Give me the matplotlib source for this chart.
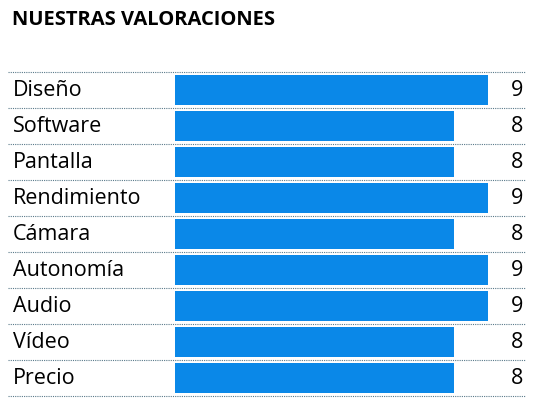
import matplotlib.pyplot as plt

categories = ["Diseño", "Software", "Pantalla", "Rendimiento", "Cámara",
              "Autonomía", "Audio", "Vídeo", "Precio"]
scores = [9, 8, 8, 9, 8, 9, 9, 8, 8]

plt.rcParams["font.family"] = ["Open Sans", "DejaVu Sans"]

fig = plt.figure(figsize=(5.4, 4.0), dpi=100)
ax = fig.add_axes([175 / 540, 4 / 400, 350 / 540, 324 / 400])
ax.set_xlim(0, 10.05)
ax.set_ylim(len(categories), 0)
ax.axis("off")

rows = [i + 0.5 for i in range(len(categories))]
ax.barh(rows, scores, height=0.84, color="#0A88E8")

trans = ax.get_yaxis_transform()
x_left = -(175 - 8) / 350
ax.hlines(range(len(categories) + 1), x_left, 1, transform=trans,
          colors="#5a7a8a", linestyles=(0, (1, 1)), linewidth=0.8, clip_on=False)

for y, cat, s in zip(rows, categories, scores):
    ax.text(-(175 - 13) / 350, y, cat, transform=trans, ha="left", va="center",
            fontsize=15.5, color="black")
    ax.text(0.995, y, str(s), transform=trans, ha="right", va="center",
            fontsize=15.5, color="black")

fig.text(12 / 540, 1 - 20 / 400, "NUESTRAS VALORACIONES", ha="left", va="center",
         fontsize=14.5, fontweight="bold")

fig.savefig("out.png", dpi=100)
